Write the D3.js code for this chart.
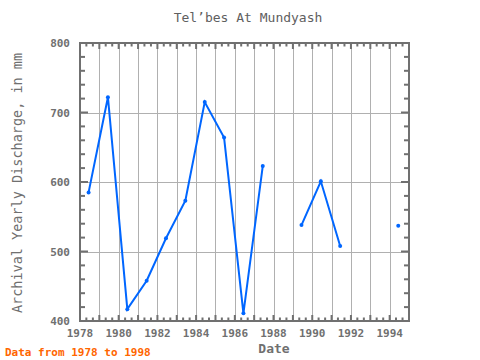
<!DOCTYPE html>
<html>
<head>
<meta charset="utf-8">
<script src="https://cdn.jsdelivr.net/npm/d3@7"></script>
<style>
  body { margin: 0; background: #fff; }
  svg text { font-family: "DejaVu Sans Mono", "Liberation Mono", monospace; }
</style>
</head>
<body>
<div id="chart"></div>
<script>
// yearly discharge, null = no data that year
const years = [1978, 1979, 1980, 1981, 1982, 1983, 1984, 1985, 1986, 1987,
               1988, 1989, 1990, 1991, 1992, 1993, 1994];
const discharge = [585, 722, 417, 458, 519, 573, 715, 664, 411, 623,
                   null, 538, 601, 508, null, null, 537];
const yTicks = [400, 500, 600, 700, 800];
const xLabelYears = [1978, 1980, 1982, 1984, 1986, 1988, 1990, 1992, 1994];

const width = 480, height = 360;
const margin = {top: 43, right: 71, bottom: 39, left: 80};

const svg = d3.select("#chart").append("svg")
    .attr("width", width)
    .attr("height", height);

const x = d3.scaleTime()
    .domain([new Date(1978, 0, 1), new Date(1995, 0, 1)])
    .range([margin.left, width - margin.right]);

const y = d3.scaleLinear()
    .domain([400, 800])
    .range([height - margin.bottom, margin.top]);

const data = years.map((yr, i) => ({date: new Date(yr, 5, 12), value: discharge[i]}));

const x0 = margin.left, x1 = width - margin.right;
const y0 = height - margin.bottom, y1 = margin.top;

// grid
const grid = svg.append("g").attr("stroke", "#b0b0b0").attr("stroke-width", 1);
grid.selectAll(".vg")
    .data(x.ticks(d3.timeYear.every(1)).slice(1))
    .enter().append("line")
    .attr("x1", d => Math.round(x(d)) + 0.5)
    .attr("x2", d => Math.round(x(d)) + 0.5)
    .attr("y1", y1).attr("y2", y0);
grid.selectAll(".hg")
    .data(yTicks.slice(1, -1))
    .enter().append("line")
    .attr("x1", x0).attr("x2", x1)
    .attr("y1", d => Math.round(y(d)) + 0.5)
    .attr("y2", d => Math.round(y(d)) + 0.5);

// ticks
const tk = svg.append("g").attr("stroke", "#707070").attr("stroke-width", 2);
const minorX = x.ticks(d3.timeMonth.every(4));
tk.selectAll(".xt")
    .data(minorX)
    .enter().append("line")
    .attr("x1", d => x(d)).attr("x2", d => x(d))
    .attr("y1", y0).attr("y2", d => y0 - (d.getMonth() === 0 ? 6 : 3.5));
tk.selectAll(".xtt")
    .data(minorX)
    .enter().append("line")
    .attr("x1", d => x(d)).attr("x2", d => x(d))
    .attr("y1", y1).attr("y2", d => y1 + (d.getMonth() === 0 ? 6 : 3.5));
const minorY = d3.range(400, 801, 20);
tk.selectAll(".yl")
    .data(minorY)
    .enter().append("line")
    .attr("x1", x0).attr("x2", d => x0 + (d % 100 === 0 ? 8 : 5))
    .attr("y1", d => y(d)).attr("y2", d => y(d));
tk.selectAll(".yr")
    .data(minorY)
    .enter().append("line")
    .attr("x1", x1).attr("x2", d => x1 - (d % 100 === 0 ? 8 : 5))
    .attr("y1", d => y(d)).attr("y2", d => y(d));

// frame
svg.append("rect")
    .attr("x", x0).attr("y", y1)
    .attr("width", x1 - x0).attr("height", y0 - y1)
    .attr("fill", "none")
    .attr("stroke", "#707070")
    .attr("stroke-width", 2);

// series line
const line = d3.line()
    .defined(d => d.value != null)
    .x(d => x(d.date))
    .y(d => y(d.value));

svg.append("path")
    .datum(data)
    .attr("d", line)
    .attr("fill", "none")
    .attr("stroke", "#0066ff")
    .attr("stroke-width", 2);

svg.selectAll(".pt")
    .data(data.filter(d => d.value != null))
    .enter().append("circle")
    .attr("cx", d => x(d.date))
    .attr("cy", d => y(d.value))
    .attr("r", 2)
    .attr("fill", "#0066ff");

// tick labels
svg.selectAll(".yl-text")
    .data(yTicks)
    .enter().append("text")
    .attr("x", 70)
    .attr("y", d => y(d) + 4)
    .attr("text-anchor", "end")
    .style("font-size", "11px")
    .style("font-weight", "bold")
    .style("fill", "#707070")
    .text(d => d);

svg.selectAll(".xl-text")
    .data(xLabelYears)
    .enter().append("text")
    .attr("x", d => x(new Date(d, 0, 1)))
    .attr("y", 337)
    .attr("text-anchor", "middle")
    .style("font-size", "11px")
    .style("font-weight", "bold")
    .style("fill", "#707070")
    .text(d => d);

// titles
svg.append("text")
    .attr("x", 248).attr("y", 22)
    .attr("text-anchor", "middle")
    .style("font-size", "13px")
    .style("fill", "#606060")
    .text("Tel\u2019bes At Mundyash");

svg.append("text")
    .attr("x", 274).attr("y", 353)
    .attr("text-anchor", "middle")
    .style("font-size", "13px")
    .style("font-weight", "bold")
    .style("fill", "#707070")
    .text("Date");

svg.append("text")
    .attr("transform", "translate(22,183) rotate(-90)")
    .attr("text-anchor", "middle")
    .style("font-size", "13.5px")
    .style("fill", "#707070")
    .text("Archival Yearly Discharge, in mm");

svg.append("text")
    .attr("x", 5).attr("y", 356)
    .style("font-size", "11px")
    .style("font-weight", "bold")
    .style("fill", "#ff6600")
    .text("Data from 1978 to 1998");
</script>
</body>
</html>
